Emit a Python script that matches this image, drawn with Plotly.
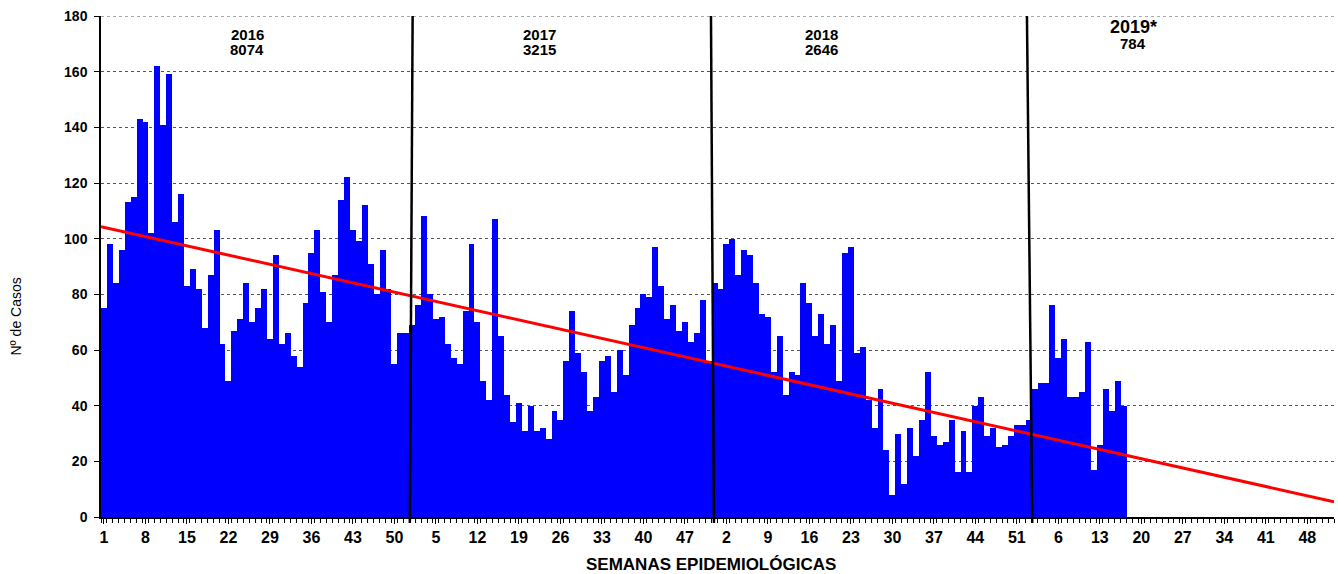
import plotly.graph_objects as go

# Weekly cases (epidemiological weeks)
cases_2016 = [75, 98, 84, 96, 113, 115, 143, 142, 102, 162, 141, 159, 106, 116, 83, 89, 82, 68, 87, 103,
              62, 49, 67, 71, 84, 70, 75, 82, 64, 94, 62, 66, 58, 54, 77, 95, 103, 81, 70, 87,
              114, 122, 103, 99, 112, 91, 80, 96, 82, 55, 66, 66]
cases_2017 = [69, 76, 108, 80, 71, 72, 62, 57, 55, 74, 98, 70, 49, 42, 107, 65, 44, 34, 41, 31,
              40, 31, 32, 28, 38, 35, 56, 74, 59, 52, 38, 43, 56, 58, 45, 60, 51, 69, 75, 80,
              79, 97, 83, 71, 76, 67, 70, 63, 66, 78, 56, 84]
cases_2018 = [82, 98, 100, 87, 96, 94, 84, 73, 72, 52, 65, 44, 52, 51, 84, 77, 65, 73, 62, 69,
              49, 95, 97, 59, 61, 42, 32, 46, 24, 8, 30, 12, 32, 22, 35, 52, 29, 26, 27, 35,
              16, 31, 16, 40, 43, 29, 32, 25, 26, 29, 33, 33]
cases_2019 = [35, 46, 48, 48, 76, 57, 64, 43, 43, 45, 63, 17, 26, 46, 38, 49, 40]

years = ["2016", "2017", "2018", "2019*"]
year_totals = ["8074", "3215", "2646", "784"]
weeks_per_year = 52
n_years = 4

tick_labels = ["1", "8", "15", "22", "29", "36", "43", "50", "5", "12", "19", "26", "33", "40", "47",
               "2", "9", "16", "23", "30", "37", "44", "51", "6", "13", "20", "27", "34", "41", "48"]

# Linear trend line values at the start and end of the axis
trend_ends = [104.3, 5.5]

all_cases = cases_2016 + cases_2017 + cases_2018 + cases_2019
x_idx = list(range(len(all_cases)))
n_cat = weeks_per_year * n_years
tick_pos = list(range(0, n_cat, 7))

FONT = "Arial, 'Liberation Sans', sans-serif"

fig = go.Figure()
fig.add_trace(go.Bar(x=x_idx, y=all_cases, marker=dict(color="#0000FF", line=dict(width=0)),
                     showlegend=False))
fig.add_trace(go.Scatter(x=[-0.5, n_cat - 0.5], y=trend_ends, mode="lines",
                         line=dict(color="#FF0000", width=3), showlegend=False))

# Top dotted gridline (at the upper edge of the value range)
fig.add_shape(type="line", xref="paper", yref="y", x0=0, x1=1, y0=180, y1=180,
              line=dict(color="#555555", width=1, dash="dot"), layer="below")

# Year dividers (slightly slanted as in the original)
div_pos = [(52.07, 51.6), (102.4, 102.9), (155.7, 156.6)]
for top, bot in div_pos:
    fig.add_shape(type="line", xref="x", yref="paper", x0=bot, x1=top, y0=-0.012, y1=1.0,
                  line=dict(color="black", width=2.5), layer="above")

# Year annotations
ann_x = [24.2, 73.5, 121.0, 173.6]
for i, (yr, tot) in enumerate(zip(years, year_totals)):
    big = (i == 3)
    fig.add_annotation(x=ann_x[i], y=176 if big else 173.2, xref="x", yref="y", text="<b>%s</b>" % yr,
                       showarrow=False, font=dict(family=FONT, size=18 if big else 15, color="black"))
    fig.add_annotation(x=ann_x[i], y=170 if big else 167.8, xref="x", yref="y", text="<b>%s</b>" % tot,
                       showarrow=False, font=dict(family=FONT, size=15, color="black"))

fig.add_annotation(x=0.495, y=-0.0955, xref="paper", yref="paper", text="<b>SEMANAS EPIDEMIOLÓGICAS</b>",
                   showarrow=False, font=dict(family=FONT, size=17, color="black"),
                   xanchor="center", yanchor="middle")
fig.add_annotation(x=-0.069, y=0.40, xref="paper", yref="paper", text="Nº de Casos", textangle=-90,
                   showarrow=False, font=dict(family=FONT, size=14, color="black"),
                   xanchor="center", yanchor="middle")

fig.update_layout(
    width=1338, height=574,
    margin=dict(l=101, r=4, t=16, b=57),
    plot_bgcolor="white", paper_bgcolor="white",
    bargap=0,
    font=dict(family=FONT, color="black"),
    xaxis=dict(range=[-0.5, n_cat - 0.5], tickmode="array", tickvals=tick_pos, ticktext=tick_labels,
               tickfont=dict(family=FONT, size=16, color="black", weight="bold"),
               ticks="outside", ticklen=5, tickcolor="black", tickwidth=1,
               minor=dict(tickmode="linear", tick0=-0.5, dtick=1, ticks="outside", ticklen=4,
                          tickcolor="black", tickwidth=1, showgrid=False),
               showline=True, linecolor="black", linewidth=1.5, showgrid=False, zeroline=False,
               fixedrange=True),
    yaxis=dict(range=[0, 180], tickmode="linear", tick0=0, dtick=20,
               tickfont=dict(family=FONT, size=14, color="black", weight="bold"),
               ticks="outside", ticklen=5, tickcolor="black", tickwidth=1, ticklabelstandoff=4,
               showline=True, linecolor="black", linewidth=1.5,
               showgrid=True, gridcolor="#555555", gridwidth=1, griddash="dot", zeroline=False),
)

fig.write_html("out.html", config={"displayModeBar": False},
               post_script="document.body.style.margin='0px';")
